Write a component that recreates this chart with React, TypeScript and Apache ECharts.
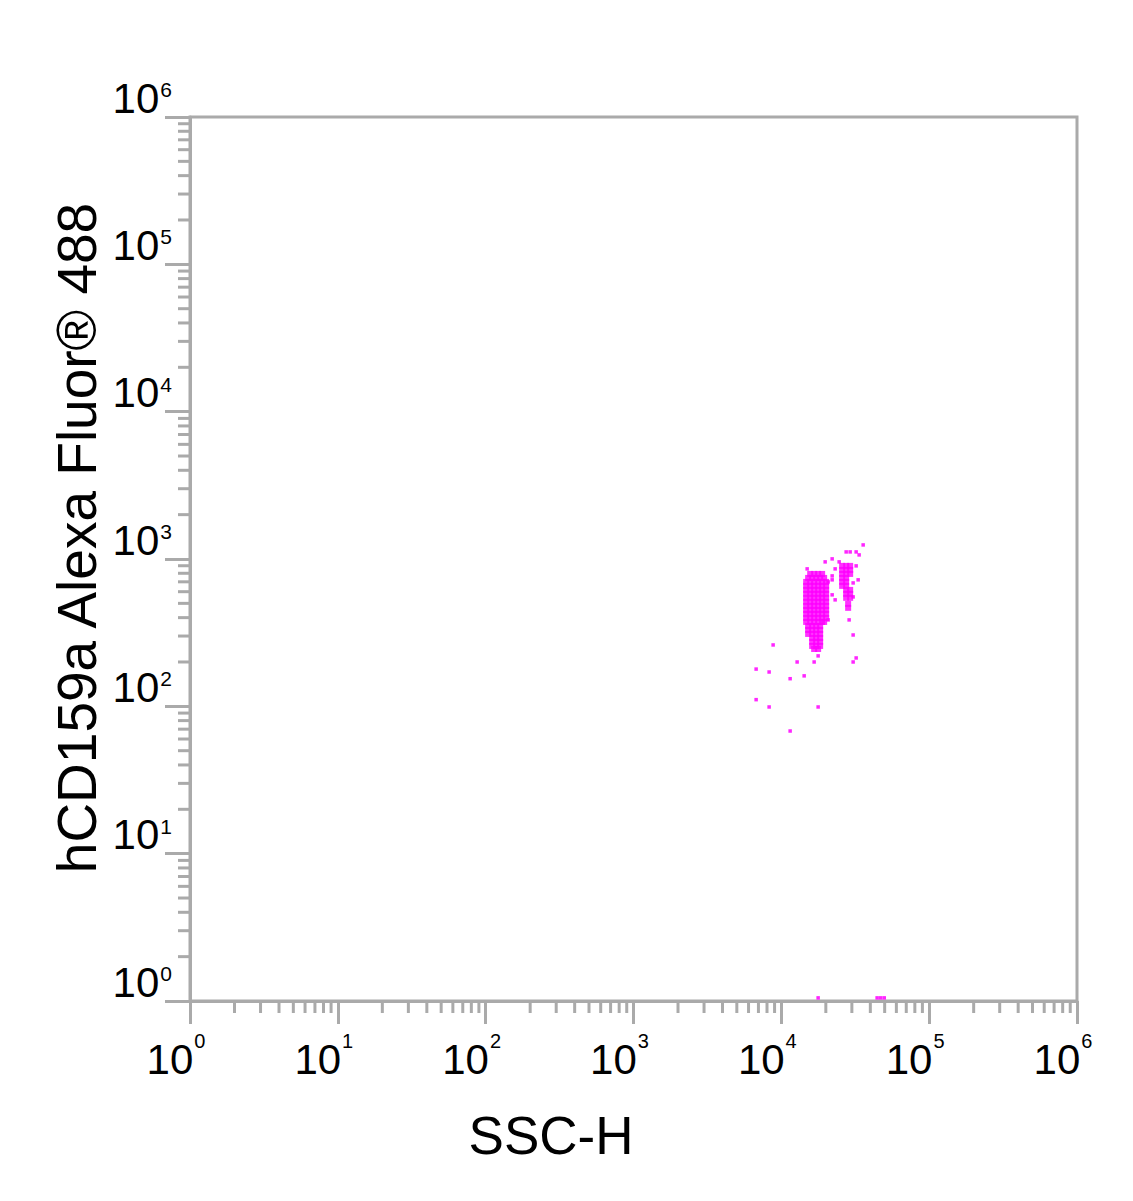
import React, { useEffect, useRef } from "react";
import * as echarts from "echarts";

const FONT = "'Liberation Sans', Arial, Helvetica, sans-serif";

const xTitle = "SSC-H";
const yTitle = "hCD159a Alexa Fluor® 488";

const axisMin = 1;
const axisMax = 1000000;

const minorTicks: number[] = [
  2, 3, 4, 5, 6, 7, 8, 9,
  20, 30, 40, 50, 60, 70, 80, 90,
  200, 300, 400, 500, 600, 700, 800, 900,
  2000, 3000, 4000, 5000, 6000, 7000, 8000, 9000,
  20000, 30000, 40000, 50000, 60000, 70000, 80000, 90000,
  200000, 300000, 400000, 500000, 600000, 700000, 800000, 900000,
];

// dense main population (SSC-H, hCD159a)
const mainCore: [number, number][] = [
  [15670, 792], [16670, 792], [17740, 792], [18880, 792],
  [15180, 744], [16160, 744], [17200, 744], [18300, 744], [19480, 744],
  [14720, 699], [15670, 699], [16670, 699], [17740, 699], [18880, 699], [20090, 699],
  [14720, 657], [15670, 657], [16670, 657], [17740, 657], [18880, 657], [20090, 657],
  [14720, 617], [15670, 617], [16670, 617], [17740, 617], [18880, 617], [20090, 617],
  [14720, 580], [15670, 580], [16670, 580], [17740, 580], [18880, 580], [20090, 580],
  [14720, 545], [15670, 545], [16670, 545], [17740, 545], [18880, 545], [20090, 545],
  [14720, 512], [15670, 512], [16670, 512], [17740, 512], [18880, 512], [20090, 512],
  [14720, 480], [15670, 480], [16670, 480], [17740, 480], [18880, 480], [20090, 480],
  [14720, 451], [15670, 451], [16670, 451], [17740, 451], [18880, 451], [20090, 451],
  [14720, 424], [15670, 424], [16670, 424], [17740, 424], [18880, 424], [20090, 424],
  [14720, 398], [15670, 398], [16670, 398], [17740, 398], [18880, 398], [20090, 398],
  [14720, 374], [15670, 374], [16670, 374], [17740, 374], [18880, 374], [19480, 374],
  [15180, 351], [16160, 351], [17200, 351], [18300, 351],
  [15180, 330], [16160, 330], [17200, 330], [18300, 330],
  [15180, 310], [16160, 310], [17200, 310], [18300, 310],
  [16160, 291], [17200, 291], [18300, 291],
  [16160, 274], [17200, 274], [18300, 274],
  [16160, 257], [17200, 257], [18300, 257],
  [16670, 245], [17740, 245],
];

// second, brighter population
const secondCore: [number, number][] = [
  [25780, 898], [27450, 898], [29210, 898],
  [25780, 843], [27450, 843], [29210, 843],
  [25780, 792], [27450, 792], [29210, 792],
  [25780, 744], [27450, 744],
  [25780, 699], [27450, 699],
  [25780, 657], [27450, 657],
  [27450, 617], [29210, 617],
  [27450, 580], [29210, 580],
  [27450, 545], [29210, 545],
  [28310, 496], [28310, 466],
];

// isolated events
const scattered: [number, number][] = [
  [35770, 1246], [27450, 1117], [29210, 1117], [32070, 1117], [33600, 1066],
  [22070, 1002], [19790, 956], [24610, 956], [32070, 898], [14950, 857],
  [23120, 857], [22070, 768], [22070, 722], [33080, 722], [20730, 699],
  [30600, 688], [22070, 571], [23120, 528], [30600, 553], [20730, 386],
  [28750, 386], [30600, 305], [8800, 261], [17740, 220], [32070, 213],
  [30600, 200], [12790, 200], [16670, 200], [6753, 179], [8268, 171],
  [14270, 161], [11470, 154], [6753, 111], [8268, 99], [17740, 99],
  [11470, 68],
  [17740, 1.05], [44460, 1.05], [47000, 1.05], [49660, 1.05],
];

const AXIS_COLOR = "#aaaaaa";
const DOT_COLOR = "#ff00ff";

const expLabel = (v: number) => `{b|10}{e|${Math.round(Math.log10(v))}}`;

export default function App() {
  const ref = useRef<HTMLDivElement>(null);
  useEffect(() => {
    document.body.style.margin = "0";
    if (!ref.current) return;
    const chart = echarts.init(ref.current, null, { renderer: "svg" });
    const option: any = {
      animation: false,
      backgroundColor: "#ffffff",
      grid: {
        left: 190,
        top: 117,
        right: 56,
        bottom: 200,
        show: true,
        borderColor: AXIS_COLOR,
        borderWidth: 3,
        backgroundColor: "transparent",
      },
      xAxis: {
        type: "log",
        logBase: 10,
        min: axisMin,
        max: axisMax,
        splitNumber: 6,
        splitLine: { show: false },
        axisLine: { show: true, lineStyle: { color: AXIS_COLOR, width: 3 } },
        axisTick: { show: true, length: 23, lineStyle: { color: AXIS_COLOR, width: 3 } },
        minorTick: { show: false },
        axisLabel: {
          show: true,
          margin: 30,
          interval: 0,
          showMinLabel: true,
          showMaxLabel: true,
          formatter: expLabel,
          rich: {
            b: { fontSize: 42, lineHeight: 56, color: "#000", fontFamily: FONT },
            e: { fontSize: 20, lineHeight: 14, verticalAlign: "top", color: "#000", fontFamily: FONT, padding: [0, 28, 0, 1] },
          },
        },
      },
      yAxis: {
        type: "log",
        logBase: 10,
        min: axisMin,
        max: axisMax,
        splitNumber: 6,
        splitLine: { show: false },
        axisLine: { show: true, lineStyle: { color: AXIS_COLOR, width: 3 } },
        axisTick: { show: true, length: 25, lineStyle: { color: AXIS_COLOR, width: 3 } },
        minorTick: { show: false },
        axisLabel: {
          show: true,
          margin: 18,
          interval: 0,
          showMinLabel: true,
          showMaxLabel: true,
          verticalAlign: "bottom",
          formatter: expLabel,
          rich: {
            b: { fontSize: 42, lineHeight: 38, color: "#000", fontFamily: FONT },
            e: { fontSize: 21, lineHeight: 26, verticalAlign: "top", color: "#000", fontFamily: FONT, padding: [0, 0, 0, 1] },
          },
        },
      },
      graphic: [
        {
          type: "text",
          x: 551,
          y: 1135,
          style: { text: xTitle, fontSize: 53, fontFamily: FONT, fill: "#000", align: "center", verticalAlign: "middle" },
        },
        {
          type: "text",
          x: 77,
          y: 538,
          rotation: Math.PI / 2,
          style: { text: yTitle, fontSize: 55, fontFamily: FONT, fill: "#000", align: "center", verticalAlign: "middle" },
        },
      ],
      series: [
        {
          type: "custom",
          clip: false,
          silent: true,
          data: minorTicks.map((v) => [v, axisMin]),
          renderItem: (_p: any, api: any) => {
            const pt = api.coord([api.value(0), api.value(1)]);
            return {
              type: "line",
              shape: { x1: pt[0], y1: pt[1], x2: pt[0], y2: pt[1] + 12 },
              style: { stroke: AXIS_COLOR, lineWidth: 3 },
            };
          },
        },
        {
          type: "custom",
          clip: false,
          silent: true,
          data: minorTicks.map((v) => [axisMin, v]),
          renderItem: (_p: any, api: any) => {
            const pt = api.coord([api.value(0), api.value(1)]);
            return {
              type: "line",
              shape: { x1: pt[0], y1: pt[1], x2: pt[0] - 12, y2: pt[1] },
              style: { stroke: AXIS_COLOR, lineWidth: 3 },
            };
          },
        },
        {
          type: "scatter",
          symbol: "rect",
          symbolSize: 6,
          itemStyle: { color: DOT_COLOR },
          data: mainCore,
        },
        {
          type: "scatter",
          symbol: "rect",
          symbolSize: 6,
          itemStyle: { color: DOT_COLOR },
          data: secondCore,
        },
        {
          type: "scatter",
          symbol: "rect",
          symbolSize: 3.5,
          itemStyle: { color: DOT_COLOR, opacity: 0.85 },
          data: scattered,
        },
      ],
    };
    chart.setOption(option);
    return () => chart.dispose();
  }, []);
  return <div ref={ref} style={{ width: 1133, height: 1201 }} />;
}
